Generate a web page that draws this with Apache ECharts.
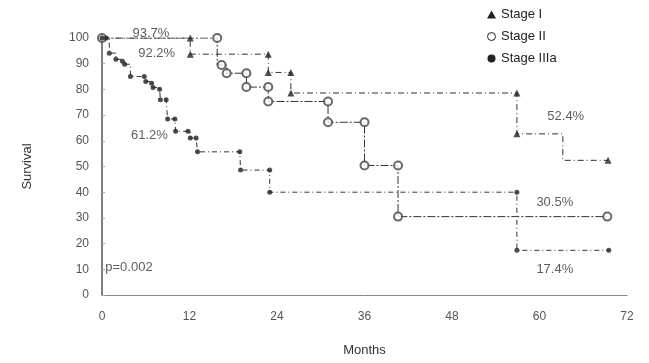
<!DOCTYPE html>
<html>
<head>
<meta charset="utf-8">
<script src="https://cdn.jsdelivr.net/npm/echarts@6/dist/echarts.min.js"></script>
<style>
  html, body { margin: 0; padding: 0; background: #fff; }
  #chart { width: 649px; height: 363px; }
</style>
</head>
<body>
<div id="chart"></div>
<script>
// Kaplan-Meier survival by stage: curve vertices [month, survival %]
const seriesNames = ['Stage I', 'Stage II', 'Stage IIIa'];

const stageICurve = [[0,100],[12.1,100],[12.1,93.7],[22.8,93.7],[22.8,86.6],[25.9,86.6],[25.9,78.6],
  [56.9,78.6],[56.9,62.7],[63.2,52.4],[69.4,52.4]];
const stageIMarks = [[0,100],[12.1,100],[12.1,93.7],[22.8,93.7],[22.8,86.6],[25.9,86.6],[25.9,78.6],
  [56.9,78.6],[56.9,62.7],[69.4,52.4]];

const stageIICurve = [[0,100],[15.8,100],[15.8,89.5],[17.1,86.3],[19.8,86.3],[19.8,80.9],[22.8,80.9],
  [22.8,75.3],[31.0,75.3],[31.0,67.2],[36.0,67.2],[36.0,50.4],[40.6,50.4],[40.6,30.5],[69.3,30.5]];
const stageIIMarks = [[0,100],[15.8,100],[16.4,89.5],[17.1,86.3],[19.8,86.3],[19.8,80.9],[22.8,80.9],
  [22.8,75.3],[31.0,75.3],[31.0,67.2],[36.0,67.2],[36.0,50.4],[40.6,50.4],[40.6,30.5],[69.3,30.5]];

const stageIIIaMarks = [[0,100],[0.6,100],[1.0,94.1],[1.9,91.7],[2.8,91.0],[3.1,89.8],[3.9,85.0],
  [5.8,85.0],[6.0,83.1],[6.8,82.4],[7.0,80.7],[7.9,80.1],[8.0,76.0],[8.8,76.0],[9.0,68.5],[10.0,68.5],
  [10.1,63.7],[11.8,63.7],[12.1,61.1],[12.9,61.1],[13.1,55.7],[18.9,55.7],[19.0,48.6],[23.0,48.6],
  [23.0,40.0],[56.9,40.0],[56.9,17.4],[69.5,17.4]];
const stageIIIaCurve = stageIIIaMarks;

// Annotations: [month, survival, text]
const notes = [
  [6.7, 101.9, '93.7%'],
  [7.5, 94.1, '92.2%'],
  [6.5, 62.0, '61.2%'],
  [63.6, 69.5, '52.4%'],
  [62.1, 35.9, '30.5%'],
  [62.1, 10.1, '17.4%'],
  [3.7, 10.9, 'p=0.002']
];

const FONT = 'Liberation Sans, Arial, sans-serif';
const INK = '#222';

const chart = echarts.init(document.getElementById('chart'), null, { renderer: 'canvas' });

function curve(name, data, dash) {
  return {
    name, type: 'line', data, step: 'end', symbol: 'none', z: 2,
    lineStyle: { color: '#333', width: 1, type: dash },
    itemStyle: { color: INK },
    animation: false
  };
}
function marks(name, data, symbol, size, style) {
  return {
    name, type: 'scatter', data, symbol, symbolSize: size, z: 3, clip: false,
    itemStyle: style, animation: false
  };
}

chart.setOption({
  backgroundColor: '#fff',
  animation: false,
  textStyle: { fontFamily: FONT },
  grid: { left: 102, right: 22, top: 38, bottom: 68 },
  legend: {
    orient: 'vertical', left: 482, top: 3, itemGap: 9,
    itemWidth: 9, itemHeight: 8,
    textStyle: { fontSize: 13, color: INK, fontFamily: FONT },
    data: [
      { name: seriesNames[0], icon: 'triangle', itemStyle: { color: INK } },
      { name: seriesNames[1], icon: 'circle', itemStyle: { color: '#fff', borderColor: INK, borderWidth: 1 } },
      { name: seriesNames[2], icon: 'circle', itemStyle: { color: INK } }
    ]
  },
  xAxis: {
    type: 'value', min: 0, max: 72, interval: 12,
    name: 'Months', nameLocation: 'middle', nameGap: 49,
    nameTextStyle: { fontSize: 13, color: '#333', fontFamily: FONT },
    axisLine: { show: true, lineStyle: { color: '#888', width: 1 } },
    axisTick: { show: false },
    splitLine: { show: false },
    axisLabel: { fontSize: 12, color: '#555', margin: 16, fontFamily: FONT }
  },
  yAxis: {
    type: 'value', min: 0, max: 100, interval: 10,
    name: 'Survival', nameLocation: 'middle', nameGap: 68, nameRotate: 90,
    nameTextStyle: { fontSize: 13, color: '#333', fontFamily: FONT },
    axisLine: { show: true, lineStyle: { color: '#555', width: 1.5 } },
    axisTick: { show: true, inside: true, length: 3, lineStyle: { color: '#aaa' } },
    splitLine: { show: false },
    axisLabel: { fontSize: 12, color: '#555', margin: 13, fontFamily: FONT }
  },
  series: [
    curve(seriesNames[0], stageICurve, [6, 3, 1, 3]),
    curve(seriesNames[1], stageIICurve, [8, 2, 2, 2]),
    curve(seriesNames[2], stageIIIaCurve, [5, 3, 1, 3]),
    marks(seriesNames[0], stageIMarks, 'triangle', 7, { color: INK }),
    marks(seriesNames[1], stageIIMarks, 'emptyCircle', 8, { color: '#444', borderWidth: 1 }),
    marks(seriesNames[2], stageIIIaMarks, 'circle', 5, { color: INK }),
    {
      type: 'scatter', data: notes, symbolSize: 0, z: 4, silent: true, clip: false,
      label: {
        show: true, position: 'inside', formatter: p => p.data[2],
        fontSize: 13, color: '#333', fontFamily: FONT
      }
    }
  ]
});
</script>
</body>
</html>
